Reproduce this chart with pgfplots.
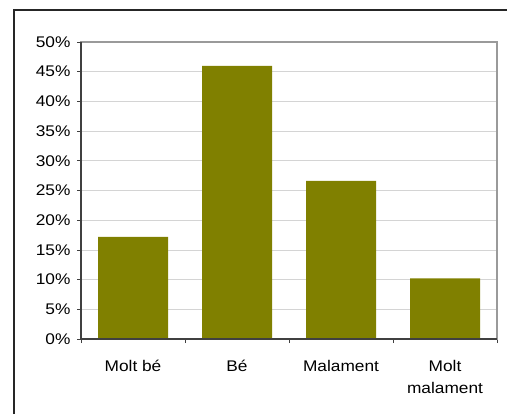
\documentclass[border=0pt]{standalone}
\usepackage{fontspec}
\setmainfont[FakeStretch=1.12]{Liberation Sans}
\usepackage{pgfplots}
\pgfplotsset{compat=1.18}
\definecolor{barolive}{HTML}{808000}
\definecolor{gridgray}{HTML}{D4D4D4}
\definecolor{boxgray}{HTML}{9A9A9A}
\definecolor{axisdark}{HTML}{404040}
\begin{document}
\begin{tikzpicture}[x=1bp,y=1bp]
\useasboundingbox (0,0) rectangle (507,414);
\draw[line width=1.5bp, black!85] (14,0) -- (14,404) -- (507,404);
\begin{axis}[
  at={(81bp,75bp)}, anchor=south west,
  scale only axis, width=416bp, height=297bp,
  xmin=0.5, xmax=4.5, ymin=0, ymax=50,
  ytick={0,5,...,50},
  yticklabel={\pgfmathprintnumber{\tick}\%},
  /pgf/number format/assume math mode=true,
  xtick={1,2,3,4},
  xticklabels={Molt bé, Bé, Malament, {Molt\\malament}},
  xticklabel style={align=center, font=\fontsize{15.5}{22}\selectfont, yshift=-14bp},
  yticklabel style={font=\fontsize{15.5}{18}\selectfont, xshift=-3bp},
  minor xtick={0.5,1.5,2.5,3.5,4.5},
  major x tick style={draw=none},
  xtick pos=bottom, ytick pos=left,
  tick align=outside,
  major tick length=4bp, minor tick length=4bp,
  tick style={axisdark, line width=0.8bp},
  ymajorgrids, major grid style={gridgray, line width=0.8bp},
  axis line style={boxgray, line width=1.2bp},
  ybar, bar width=70bp,
  clip=false,
]
\addplot[fill=barolive, draw=none] coordinates {(1,17.2) (2,46.0) (3,26.6) (4,10.2)};
\draw[axisdark, line width=1.2bp] (rel axis cs:0,1) -- (rel axis cs:0,0) -- (rel axis cs:1,0);
\end{axis}
\end{tikzpicture}
\end{document}
